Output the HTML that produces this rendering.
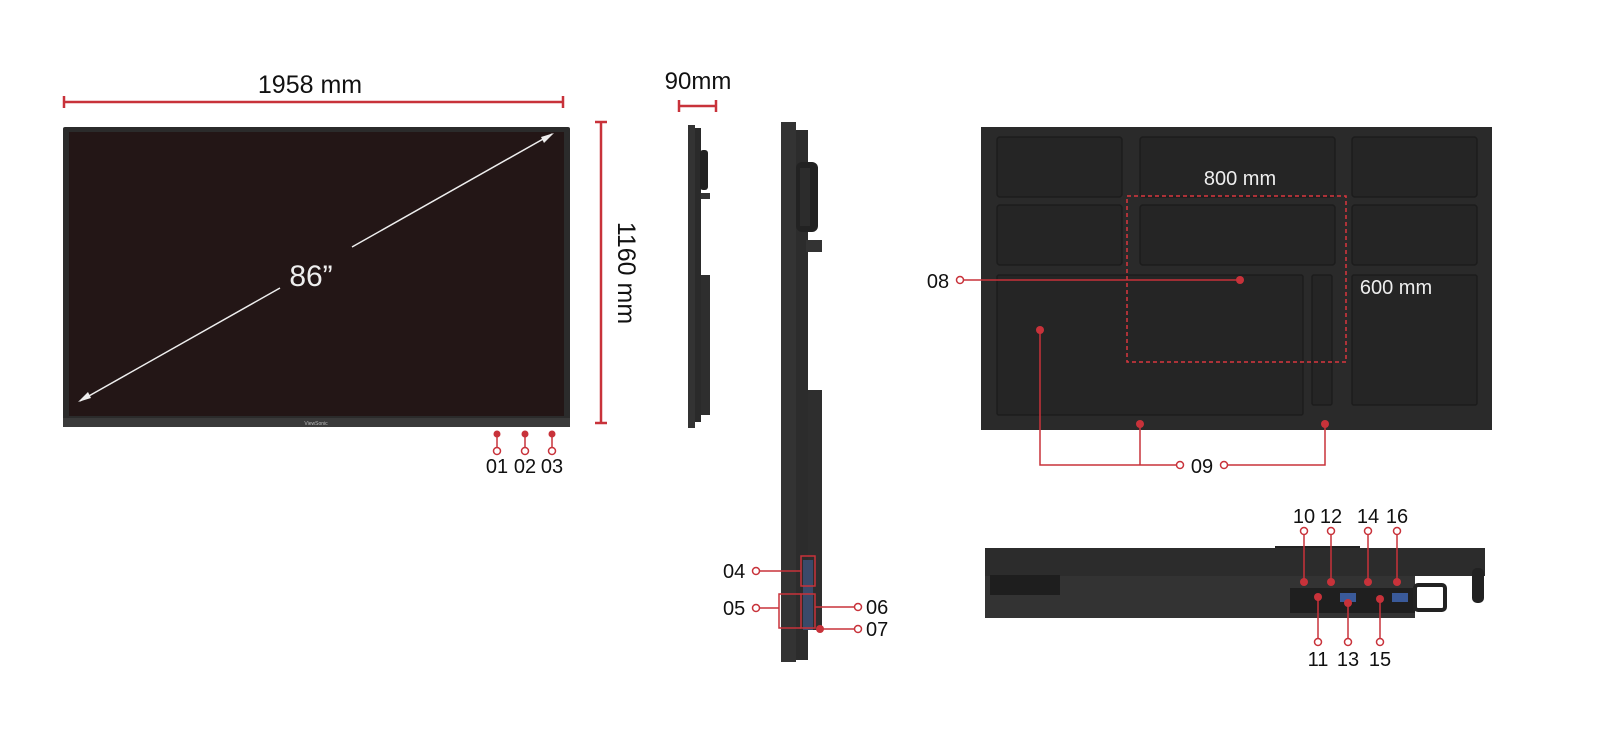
<!DOCTYPE html>
<html><head><style>
html,body{margin:0;padding:0;background:#fff;}
svg text{font-family:"Liberation Sans",sans-serif;}
</style></head><body>
<svg width="1600" height="730" viewBox="0 0 1600 730" xmlns="http://www.w3.org/2000/svg">
<!-- FRONT -->
<text x="310" y="93" font-size="25" text-anchor="middle" fill="#111">1958 mm</text>
<g stroke="#c8323a" stroke-width="2.5" fill="none">
<line x1="64" y1="102" x2="563" y2="102"/><line x1="64" y1="96" x2="64" y2="108"/><line x1="563" y1="96" x2="563" y2="108"/>
<line x1="601" y1="122" x2="601" y2="423"/><line x1="595" y1="122" x2="607" y2="122"/><line x1="595" y1="423" x2="607" y2="423"/>
</g>
<text transform="translate(618,273) rotate(90)" font-size="25" text-anchor="middle" fill="#111">1160 mm</text>
<rect x="63" y="127" width="507" height="300" fill="#2b2b2b" rx="2"/>
<rect x="69" y="132" width="495" height="284" fill="#231616"/>
<rect x="63" y="418" width="507" height="9" fill="#3a3a3a"/>
<text x="316" y="425" font-size="5" fill="#bbb" text-anchor="middle">ViewSonic</text>
<g stroke="#eee" stroke-width="1.5">
<line x1="80" y1="401" x2="280" y2="288"/><line x1="352" y1="247" x2="552" y2="134"/>
</g>
<polygon points="78,402 88,392 91,398" fill="#eee"/><polygon points="554,133 544,143 541,137" fill="#eee"/>
<text x="311" y="286" font-size="30" fill="#eee" text-anchor="middle">86”</text>
<g stroke="#c8323a" stroke-width="1.5" fill="#fff">
<line x1="497" y1="434" x2="497" y2="448"/><line x1="525" y1="434" x2="525" y2="448"/><line x1="552" y1="434" x2="552" y2="448"/>
<circle cx="497" cy="451" r="3.5"/><circle cx="525" cy="451" r="3.5"/><circle cx="552" cy="451" r="3.5"/>
</g>
<g fill="#c8323a"><circle cx="497" cy="434" r="3.5"/><circle cx="525" cy="434" r="3.5"/><circle cx="552" cy="434" r="3.5"/></g>
<text x="497" y="473" font-size="20" text-anchor="middle" fill="#111">01</text>
<text x="525" y="473" font-size="20" text-anchor="middle" fill="#111">02</text>
<text x="552" y="473" font-size="20" text-anchor="middle" fill="#111">03</text>
<!-- SMALL SIDE -->
<text x="698" y="89" font-size="24" text-anchor="middle" fill="#111">90mm</text>
<g stroke="#c8323a" stroke-width="2.5"><line x1="679" y1="106" x2="716" y2="106"/><line x1="679" y1="100" x2="679" y2="112"/><line x1="716" y1="100" x2="716" y2="112"/></g>
<rect x="688" y="125" width="7" height="303" fill="#333"/>
<rect x="695" y="128" width="6" height="294" fill="#2a2a2a"/>
<rect x="700" y="150" width="8" height="40" fill="#222" rx="3"/>
<rect x="701" y="193" width="9" height="6" fill="#333"/>
<rect x="701" y="275" width="9" height="140" fill="#2e2e2e"/>
<!-- BIG SIDE -->
<rect x="781" y="122" width="15" height="540" fill="#333"/>
<rect x="796" y="130" width="12" height="530" fill="#2c2c2c"/>
<rect x="796" y="162" width="22" height="70" fill="#222" rx="6"/>
<rect x="800" y="168" width="10" height="58" fill="#2c2c2c"/>
<rect x="806" y="240" width="16" height="12" fill="#333"/>
<rect x="808" y="390" width="14" height="240" fill="#2e2e2e"/>
<rect x="803" y="560" width="10" height="70" fill="#3a4a6a"/>
<g stroke="#c8323a" stroke-width="1.5" fill="none">
<rect x="801" y="556" width="14" height="30"/>
<rect x="801" y="594" width="14" height="34"/>
<line x1="760" y1="571" x2="801" y2="571"/>
<polyline points="760,608 779,608"/><polyline points="801,594 779,594 779,628 801,628"/>
<line x1="815" y1="607" x2="854" y2="607"/><line x1="820" y1="629" x2="854" y2="629"/>
</g>
<g stroke="#c8323a" stroke-width="1.5" fill="#fff"><circle cx="756" cy="571" r="3.5"/><circle cx="756" cy="608" r="3.5"/><circle cx="858" cy="607" r="3.5"/><circle cx="858" cy="629" r="3.5"/></g>
<circle cx="820" cy="629" r="4" fill="#c8323a"/>
<g font-size="20" fill="#111"><text x="723" y="578">04</text><text x="723" y="615">05</text><text x="866" y="614">06</text><text x="866" y="636">07</text></g>
<!-- BACK -->
<rect x="981" y="127" width="511" height="303" fill="#2a2a2a"/>
<g fill="#252525" stroke="#1c1c1c" stroke-width="1.5">
<rect x="997" y="137" width="125" height="60" rx="3"/><rect x="1140" y="137" width="195" height="60" rx="3"/><rect x="1352" y="137" width="125" height="60" rx="3"/>
<rect x="997" y="205" width="125" height="60" rx="3"/><rect x="1140" y="205" width="195" height="60" rx="3"/><rect x="1352" y="205" width="125" height="60" rx="3"/>
<rect x="997" y="275" width="306" height="140" rx="2"/><rect x="1312" y="275" width="20" height="130" rx="2"/><rect x="1352" y="275" width="125" height="130" rx="2"/>
</g>
<rect x="1127" y="196" width="219" height="166" fill="none" stroke="#d9363e" stroke-width="1.5" stroke-dasharray="4,3"/>
<text x="1240" y="185" font-size="20" fill="#eee" text-anchor="middle">800  mm</text>
<text x="1396" y="294" font-size="20" fill="#eee" text-anchor="middle">600 mm</text>
<g stroke="#c8323a" stroke-width="1.5" fill="none">
<line x1="964" y1="280" x2="1240" y2="280"/>
<polyline points="1040,330 1040,465 1176,465"/><line x1="1140" y1="424" x2="1140" y2="465"/>
<polyline points="1228,465 1325,465 1325,424"/>
</g>
<g stroke="#c8323a" stroke-width="1.5" fill="#fff"><circle cx="960" cy="280" r="3.5"/><circle cx="1180" cy="465" r="3.5"/><circle cx="1224" cy="465" r="3.5"/></g>
<g fill="#c8323a"><circle cx="1240" cy="280" r="4"/><circle cx="1040" cy="330" r="4"/><circle cx="1140" cy="424" r="4"/><circle cx="1325" cy="424" r="4"/></g>
<text x="938" y="288" font-size="20" fill="#111" text-anchor="middle">08</text>
<text x="1202" y="473" font-size="20" fill="#111" text-anchor="middle">09</text>
<!-- BOTTOM -->
<rect x="1275" y="546" width="85" height="4" fill="#222"/>
<rect x="985" y="548" width="500" height="28" fill="#2c2c2c"/>
<rect x="985" y="576" width="430" height="42" fill="#333"/>
<rect x="990" y="575" width="70" height="20" fill="#1e1e1e"/>
<rect x="1290" y="588" width="125" height="25" fill="#1f1f1f"/>
<rect x="1415" y="585" width="30" height="25" fill="none" stroke="#222" stroke-width="4" rx="3"/>
<rect x="1472" y="568" width="12" height="35" fill="#222" rx="5"/>
<rect x="1340" y="593" width="16" height="9" fill="#3a5a9a"/><rect x="1392" y="593" width="16" height="9" fill="#3a5a9a"/>
<g stroke="#c8323a" stroke-width="1.5">
<line x1="1304" y1="534" x2="1304" y2="582"/><line x1="1331" y1="534" x2="1331" y2="582"/><line x1="1368" y1="534" x2="1368" y2="582"/><line x1="1397" y1="534" x2="1397" y2="582"/>
<line x1="1318" y1="597" x2="1318" y2="638"/><line x1="1348" y1="603" x2="1348" y2="638"/><line x1="1380" y1="599" x2="1380" y2="638"/>
</g>
<g stroke="#c8323a" stroke-width="1.5" fill="#fff">
<circle cx="1304" cy="531" r="3.5"/><circle cx="1331" cy="531" r="3.5"/><circle cx="1368" cy="531" r="3.5"/><circle cx="1397" cy="531" r="3.5"/>
<circle cx="1318" cy="642" r="3.5"/><circle cx="1348" cy="642" r="3.5"/><circle cx="1380" cy="642" r="3.5"/>
</g>
<g fill="#c8323a">
<circle cx="1304" cy="582" r="4"/><circle cx="1331" cy="582" r="4"/><circle cx="1368" cy="582" r="4"/><circle cx="1397" cy="582" r="4"/>
<circle cx="1318" cy="597" r="4"/><circle cx="1348" cy="603" r="4"/><circle cx="1380" cy="599" r="4"/>
</g>
<g font-size="20" fill="#111" text-anchor="middle">
<text x="1304" y="523">10</text><text x="1331" y="523">12</text><text x="1368" y="523">14</text><text x="1397" y="523">16</text>
<text x="1318" y="666">11</text><text x="1348" y="666">13</text><text x="1380" y="666">15</text>
</g>
</svg>
</body></html>
